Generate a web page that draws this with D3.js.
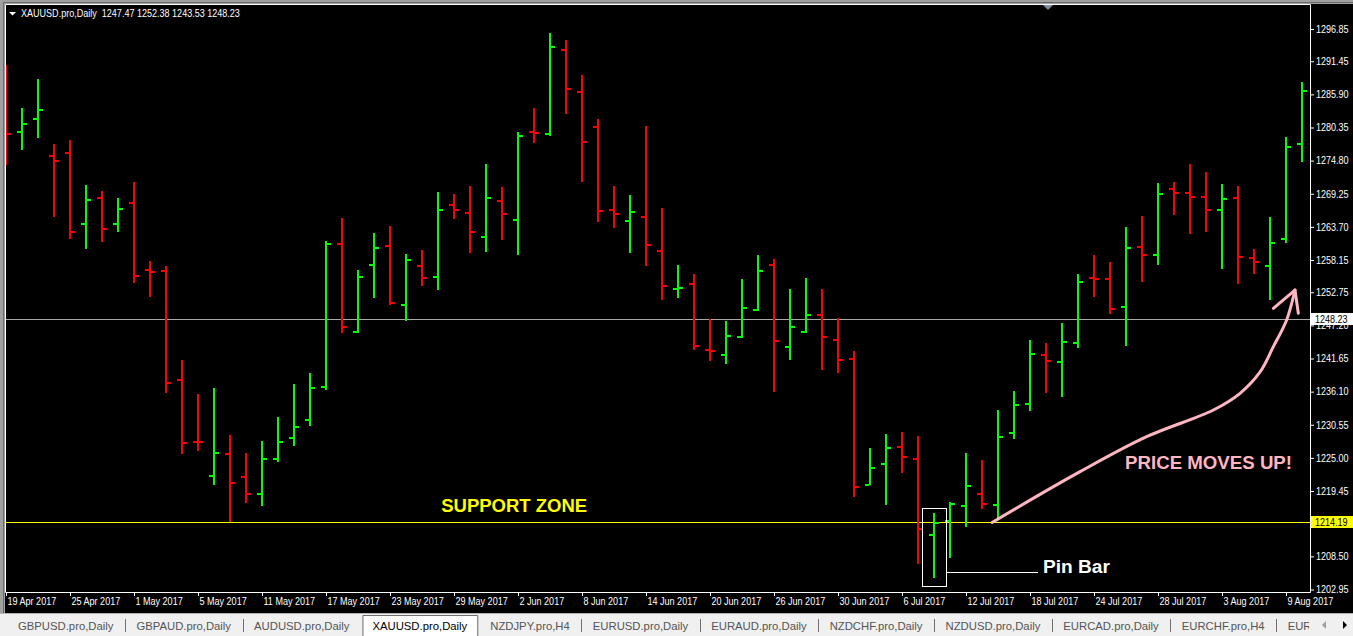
<!DOCTYPE html>
<html>
<head>
<meta charset="utf-8">
<script src="https://cdn.jsdelivr.net/npm/d3@7"></script>
<style>
html, body { margin: 0; padding: 0; background: #000; overflow: hidden; }
svg { display: block; }
text { font-family: "Liberation Sans", Arial, sans-serif; }
</style>
</head>
<body>
<svg id="chart" width="1353" height="636"></svg>
<script>
// XAUUSD daily bars

var w = 1353, h = 636;

var symbol = 'XAUUSD.pro,Daily';
var headerValues = [1247.47, 1252.38, 1243.53, 1248.23];

var open = [1289.98, 1279.60, 1281.82, 1275.63, 1276.13, 1264.23, 1268.59, 1264.23, 1267.65, 1256.40,
	1256.36, 1238.00, 1227.71, 1222.02, 1225.70, 1221.85, 1219.00, 1224.86, 1228.38, 1231.40,
	1236.93, 1260.83, 1246.09, 1257.37, 1260.55, 1250.66, 1257.20, 1255.35, 1267.42, 1266.08,
	1262.06, 1268.09, 1264.90, 1279.65, 1279.31, 1293.38, 1286.35, 1280.48, 1266.58, 1264.74,
	1265.41, 1259.71, 1253.34, 1254.18, 1243.12, 1242.29, 1245.30, 1249.83, 1257.37, 1243.63,
	1246.14, 1248.99, 1244.80, 1241.62, 1220.46, 1223.98, 1226.88, 1224.86, 1212.13, 1214.48,
	1216.99, 1219.00, 1217.16, 1229.22, 1234.08, 1242.19, 1241.11, 1244.30, 1255.10, 1255.02,
	1250.33, 1260.38, 1259.04, 1270.10, 1269.43, 1268.76, 1266.58, 1268.59, 1258.54, 1257.20,
	1261.72, 1277.64]
var high = [1290.82, 1283.57, 1288.48, 1277.59, 1278.26, 1270.72, 1269.71, 1268.54, 1271.22, 1257.98,
	1257.15, 1241.40, 1235.70, 1236.66, 1228.78, 1225.77, 1227.83, 1231.80, 1237.43, 1239.22,
	1261.34, 1265.19, 1256.48, 1262.68, 1263.85, 1259.16, 1259.83, 1269.54, 1269.21, 1270.55,
	1274.24, 1270.38, 1279.60, 1283.62, 1296.18, 1295.01, 1289.15, 1281.77, 1270.55, 1269.04,
	1280.60, 1266.86, 1257.31, 1255.81, 1248.32, 1247.98, 1254.97, 1258.99, 1258.32, 1253.29,
	1255.14, 1253.29, 1248.49, 1242.91, 1226.66, 1229.00, 1229.34, 1228.67, 1215.72, 1217.56,
	1225.82, 1224.65, 1233.02, 1236.21, 1244.75, 1244.25, 1247.60, 1255.81, 1258.99, 1257.87,
	1263.68, 1265.57, 1271.05, 1271.22, 1274.24, 1272.89, 1270.88, 1270.55, 1260.05, 1265.41,
	1278.81, 1287.97]
var low = [1274.07, 1276.63, 1278.54, 1265.41, 1261.62, 1259.94, 1261.22, 1262.89, 1254.25, 1252.00,
	1235.82, 1225.70, 1226.20, 1220.51, 1214.25, 1217.49, 1216.99, 1224.36, 1227.04, 1230.39,
	1236.42, 1245.97, 1245.97, 1251.84, 1250.66, 1247.98, 1253.85, 1253.18, 1265.07, 1259.38,
	1259.54, 1261.55, 1259.04, 1277.80, 1278.98, 1282.66, 1271.27, 1264.57, 1263.56, 1259.38,
	1257.20, 1251.50, 1251.84, 1243.12, 1241.28, 1240.78, 1245.14, 1249.66, 1236.09, 1241.45,
	1245.97, 1239.77, 1239.27, 1218.50, 1220.40, 1217.16, 1222.52, 1207.27, 1204.93, 1208.28,
	1213.47, 1216.49, 1214.81, 1228.21, 1232.91, 1235.92, 1235.25, 1243.46, 1252.00, 1249.16,
	1243.80, 1254.52, 1257.37, 1265.74, 1262.56, 1262.89, 1256.69, 1254.18, 1255.86, 1251.50,
	1260.95, 1274.62]
var close = [1279.31, 1280.99, 1283.33, 1274.79, 1262.89, 1268.25, 1263.40, 1266.75, 1255.47, 1256.20,
	1237.60, 1227.54, 1227.60, 1225.82, 1220.84, 1219.00, 1224.76, 1227.71, 1230.22, 1236.76,
	1260.83, 1246.98, 1255.35, 1260.16, 1251.00, 1258.20, 1255.19, 1266.58, 1266.58, 1262.89,
	1268.59, 1265.91, 1278.98, 1279.48, 1293.84, 1286.85, 1277.97, 1266.41, 1265.91, 1266.24,
	1260.72, 1253.85, 1253.51, 1243.80, 1242.96, 1245.47, 1250.16, 1256.36, 1244.63, 1246.98,
	1248.99, 1245.30, 1241.45, 1220.17, 1223.36, 1226.66, 1225.20, 1213.09, 1214.09, 1217.33,
	1220.34, 1217.33, 1228.55, 1233.91, 1242.35, 1241.28, 1244.46, 1254.52, 1255.00, 1249.99,
	1260.21, 1259.04, 1269.26, 1269.43, 1268.76, 1266.58, 1268.42, 1258.71, 1257.87, 1260.95,
	1277.13, 1286.41]

// trading days (weekdays) 19 Apr - 10 Aug 2017
var days = d3.timeDay.range(new Date(2017, 3, 19), new Date(2017, 7, 11))
	.filter(function(d) { return d.getDay() % 6 != 0; });
var dateTicks = d3.range(0, 81, 4);

var priceTicks = [1296.85, 1291.45, 1285.90, 1280.35, 1274.80, 1269.25, 1263.70, 1258.15, 1252.75,
	1247.20, 1241.65, 1236.10, 1230.55, 1225.00, 1219.45, 1208.50, 1202.95];
var bidPrice = 1248.23;
var supportPrice = 1214.19;

var tabs = ['GBPUSD.pro,Daily', 'GBPAUD.pro,Daily', 'AUDUSD.pro,Daily', 'XAUUSD.pro,Daily', 'NZDJPY.pro,H4',
	'EURUSD.pro,Daily', 'EURAUD.pro,Daily', 'NZDCHF.pro,Daily', 'NZDUSD.pro,Daily', 'EURCAD.pro,Daily',
	'EURCHF.pro,H4', 'EURGBP.pro,Daily'];
var activeTab = 3;

// annotation points in [bar index, price]
var pinBar = 58;
var arrowPts = [[61.63, 1214.18], [67.13, 1222.69], [71.29, 1228.55], [75.46, 1233.02], [77.13, 1235.82],
	[78.38, 1239.39], [79.21, 1243.63], [80.04, 1248.10], [80.56, 1253.12]];
var arrowHead = [[79.21, 1250.06], [80.56, 1253.12], [80.77, 1249.22]];

var bull = '#00ff00', bear = '#ff0000', pink = '#ffb6c1';

var x = d3.scaleLinear().domain([0, days.length - 1]).range([6, 6 + 16 * (days.length - 1)]);
var y = d3.scaleLinear().domain([1202.95, 1296.85]).range([589.5, 29]);

var svg = d3.select('#chart');

// squeeze MT4-ish small text
function narrow(sel, k) {
	sel.each(function() {
		var l = this.getComputedTextLength();
		this.setAttribute('textLength', l * k);
		this.setAttribute('lengthAdjust', 'spacingAndGlyphs');
	});
}

svg.append('rect').attr('width', w).attr('height', h).attr('fill', '#000');

// window frame
svg.append('rect').attr('width', w).attr('height', 4).attr('fill', '#a0a0a0');
svg.append('rect').attr('width', 5).attr('height', h).attr('fill', '#a0a0a0');
svg.append('line').attr('x1', 3.5).attr('x2', 3.5).attr('y1', 3).attr('y2', 613).attr('stroke', '#6b6b6b');
svg.append('line').attr('x1', 3).attr('x2', w).attr('y1', 2.5).attr('y2', 2.5).attr('stroke', '#6b6b6b');

svg.append('clipPath').attr('id', 'plot')
	.append('rect').attr('x', 6).attr('y', 5).attr('width', 1304).attr('height', 587);

var plot = svg.append('g').attr('clip-path', 'url(#plot)');

// horizontal lines
plot.append('line').attr('x1', 6).attr('x2', 1310)
	.attr('y1', Math.round(y(bidPrice)) + 0.5).attr('y2', Math.round(y(bidPrice)) + 0.5)
	.attr('stroke', '#a8a8a8');
plot.append('line').attr('x1', 6).attr('x2', 1310)
	.attr('y1', Math.round(y(supportPrice)) + 0.5).attr('y2', Math.round(y(supportPrice)) + 0.5)
	.attr('stroke', '#ffff00');

// OHLC bars
var bars = plot.selectAll('g.bar')
	.data(days)
	.enter().append('g')
		.attr('class', 'bar')
		.attr('fill', function(d, i) { return close[i] > open[i] ? bull : bear; });

bars.append('rect')
	.attr('x', function(d, i) { return x(i) - 1; })
	.attr('width', 2)
	.attr('y', function(d, i) { return Math.round(y(high[i])); })
	.attr('height', function(d, i) { return Math.max(2, Math.round(y(low[i])) - Math.round(y(high[i]))); });
bars.append('rect')
	.attr('x', function(d, i) { return x(i) - 5; })
	.attr('width', 4)
	.attr('y', function(d, i) { return Math.round(y(open[i])) - 1; })
	.attr('height', 2);
bars.append('rect')
	.attr('x', function(d, i) { return x(i) + 1; })
	.attr('width', 4)
	.attr('y', function(d, i) { return Math.round(y(close[i])) - 1; })
	.attr('height', 2);

// chart shift marker
svg.append('path').attr('d', 'M1043,5 L1053,5 L1048,10 Z').attr('fill', '#8090a0');

// chart border
svg.append('path').attr('d', 'M5.5,592.5 V4.5 H1310.5 V592.5 Z')
	.attr('fill', 'none').attr('stroke', '#fff');

// header
svg.append('path').attr('d', 'M9,12 L16,12 L12.5,15.5 Z').attr('fill', '#fff');
svg.append('text').attr('x', 21).attr('y', 16.5)
	.attr('fill', '#fff').attr('font-size', 10.5)
	.attr('xml:space', 'preserve')
	.text(symbol + '  ' + headerValues.map(d3.format('.2f')).join(' '))
	.call(narrow, 0.86);

// price axis
var yAxis = svg.append('g')
	.attr('transform', 'translate(1310,0)')
	.call(d3.axisRight(y).tickValues(priceTicks).tickSize(4).tickPadding(2).tickFormat(d3.format('.2f')));
yAxis.select('.domain').remove();
yAxis.selectAll('line').attr('stroke', '#fff');
yAxis.selectAll('text').attr('fill', '#fff').attr('font-size', 10.5).attr('font-family', null).call(narrow, 0.86);

// price boxes
[[bidPrice, '#fff'], [supportPrice, '#ffff00']].forEach(function(p) {
	var py = Math.round(y(p[0]));
	svg.append('rect').attr('x', 1311).attr('y', py - 6).attr('width', 42).attr('height', 12).attr('fill', p[1]);
	svg.append('text').attr('x', 1315).attr('y', py + 4)
		.attr('fill', '#000').attr('font-size', 10.5)
		.text(d3.format('.2f')(p[0]))
		.call(narrow, 0.86);
});

// date axis
var fmt = d3.timeFormat('%-d %b %Y');
var xAxis = svg.append('g')
	.attr('transform', 'translate(0,592)')
	.call(d3.axisBottom(x).tickValues(dateTicks).tickSize(4).tickPadding(2)
		.tickFormat(function(i) { return fmt(days[i]); }));
xAxis.select('.domain').remove();
xAxis.selectAll('line').attr('stroke', '#fff');
xAxis.selectAll('text').attr('fill', '#fff').attr('font-size', 10.5).attr('font-family', null)
	.attr('text-anchor', 'start').attr('x', 1)
	.call(narrow, 0.86);

// annotations
function bigText(px, py, color, s, len) {
	svg.append('text').attr('x', px).attr('y', py)
		.attr('fill', color).attr('font-size', 18).attr('font-weight', 'bold')
		.attr('textLength', len).attr('lengthAdjust', 'spacingAndGlyphs')
		.text(s);
}
bigText(x(27.2), y(supportPrice) - 10, '#ffff00', 'SUPPORT ZONE', 146);
bigText(x(69.94), y(1223.14), pink, 'PRICE MOVES UP!', 167);

var line = d3.line().x(function(d) { return x(d[0]); }).y(function(d) { return y(d[1]); });
svg.append('path').attr('d', line.curve(d3.curveCatmullRom)(arrowPts))
	.attr('fill', 'none').attr('stroke', pink).attr('stroke-width', 3).attr('stroke-linecap', 'round');
svg.append('path').attr('d', line.curve(d3.curveLinear)(arrowHead))
	.attr('fill', 'none').attr('stroke', pink).attr('stroke-width', 3)
	.attr('stroke-linejoin', 'round').attr('stroke-linecap', 'round');

// pin bar box + label
var boxTop = Math.round(y(high[pinBar] + 0.85)) + 0.5,
	boxBot = Math.round(y(low[pinBar] - 1.45)) + 0.5,
	boxL = Math.round(x(pinBar - 0.72)) + 0.5,
	boxR = Math.round(x(pinBar + 0.72)) + 0.5;
svg.append('rect').attr('x', boxL).attr('y', boxTop).attr('width', boxR - boxL).attr('height', boxBot - boxTop)
	.attr('fill', 'none').attr('stroke', '#fff');
var linkY = Math.round(y(1205.88)) + 0.5;
svg.append('line').attr('x1', boxR).attr('x2', Math.round(x(64.5))).attr('y1', linkY).attr('y2', linkY)
	.attr('stroke', '#fff');
bigText(x(64.81), y(1205.66), '#fff', 'Pin Bar', 67);

// tab bar
svg.append('rect').attr('x', 0).attr('y', 613).attr('width', w).attr('height', h - 613).attr('fill', '#f0f0f0');
svg.append('line').attr('x1', 0).attr('x2', w).attr('y1', 613.5).attr('y2', 613.5).attr('stroke', '#b4b4b4');
svg.append('clipPath').attr('id', 'tabclip')
	.append('rect').attr('x', 0).attr('y', 613).attr('width', 1309).attr('height', 23);
var tabG = svg.append('g').attr('clip-path', 'url(#tabclip)');
var tx = 18;
tabs.forEach(function(t, i) {
	var txt = tabG.append('text').attr('x', tx).attr('y', 629.5)
		.attr('font-size', 11.3).attr('fill', i == activeTab ? '#000' : '#555')
		.text(t);
	var tw = txt.node().getComputedTextLength();
	if (i == activeTab) {
		tabG.insert('path', 'text')
			.attr('d', 'M' + (tx - 9.5) + ',636 V615.5 H' + (tx + tw + 10.5) + ' V636')
			.attr('fill', '#fff').attr('stroke', '#6e6e6e');
	} else if (i != activeTab - 1 && i < tabs.length - 1) {
		tabG.append('line').attr('x1', Math.round(tx + tw + 11.5) + 0.5).attr('x2', Math.round(tx + tw + 11.5) + 0.5)
			.attr('y1', 619).attr('y2', 632).attr('stroke', '#707070');
	}
	tx += tw + 23;
});
svg.append('path').attr('d', 'M1326,621 V629 L1322,625 Z').attr('fill', '#a0a0a0');
svg.append('path').attr('d', 'M1343,621 V629 L1347,625 Z').attr('fill', '#000');
</script>
</body>
</html>
